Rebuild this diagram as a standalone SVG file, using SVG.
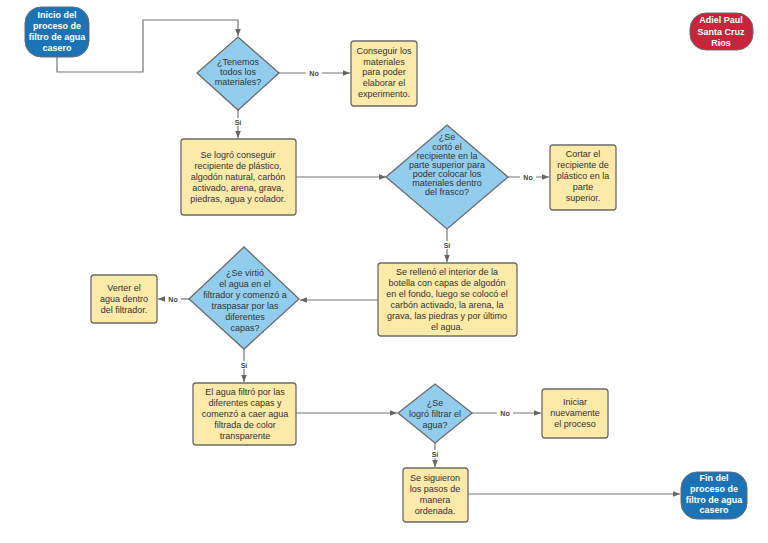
<svg xmlns="http://www.w3.org/2000/svg" width="768" height="543" viewBox="0 0 768 543">
<defs>
<marker id="ah" viewBox="0 0 10 10" refX="10" refY="5" markerWidth="7" markerHeight="7" markerUnits="userSpaceOnUse" orient="auto">
<path d="M0,1 L10,5 L0,9 z" fill="#666"/>
</marker>
<style>
.box{fill:#FDE9A8;stroke:#6b6b6b;stroke-width:1.3}
.dia{fill:#92CDEE;stroke:#6b6b6b;stroke-width:1.3}
.term{fill:#1B73B5;stroke:#6b6b6b;stroke-width:1}
.red{fill:#C8243A;stroke:#6b6b6b;stroke-width:1}
.t{font-family:"Liberation Sans",Arial,sans-serif;font-size:9px;fill:#333;text-anchor:middle;dominant-baseline:central}
.tw{font-family:"Liberation Sans",Arial,sans-serif;font-size:9px;font-weight:bold;fill:#fff;text-anchor:middle;dominant-baseline:central}
.c{fill:none;stroke:#777;stroke-width:1.2}
.lb{font-family:"Liberation Sans",Arial,sans-serif;font-size:7px;font-weight:bold;fill:#444;text-anchor:middle;dominant-baseline:central}
.lbg{fill:#fff}
</style>
</defs>
<rect width="768" height="543" fill="#fff"/>

<g id="connectors">
<path class="c" d="M57,57 V72 H143 V20 H238 V36" marker-end="url(#ah)"/>
<path class="c" d="M279,73 H350" marker-end="url(#ah)"/>
<path class="c" d="M238,110 V138" marker-end="url(#ah)"/>
<path class="c" d="M296,177 H386" marker-end="url(#ah)"/>
<path class="c" d="M508,177 H549" marker-end="url(#ah)"/>
<path class="c" d="M447,229 V262" marker-end="url(#ah)"/>
<path class="c" d="M378,300 H300" marker-end="url(#ah)"/>
<path class="c" d="M189,299 H158" marker-end="url(#ah)"/>
<path class="c" d="M244,349 V382" marker-end="url(#ah)"/>
<path class="c" d="M296,413 H397" marker-end="url(#ah)"/>
<path class="c" d="M472,413 H541" marker-end="url(#ah)"/>
<path class="c" d="M435,443 V467" marker-end="url(#ah)"/>
<path class="c" d="M468,494 H680" marker-end="url(#ah)"/>
<rect class="lbg" x="306" y="69" width="16" height="8"/><text class="lb" x="314" y="73">No</text>
<rect class="lbg" x="232" y="118" width="12" height="8"/><text class="lb" x="238" y="122">Sí</text>
<rect class="lbg" x="520" y="173" width="16" height="8"/><text class="lb" x="528" y="177">No</text>
<rect class="lbg" x="441" y="241" width="12" height="8"/><text class="lb" x="447" y="245">Sí</text>
<rect class="lbg" x="165" y="295" width="16" height="8"/><text class="lb" x="173" y="299">No</text>
<rect class="lbg" x="238" y="361" width="12" height="8"/><text class="lb" x="244" y="365">Sí</text>
<rect class="lbg" x="497" y="409" width="16" height="8"/><text class="lb" x="505" y="413">No</text>
<rect class="lbg" x="429" y="450" width="12" height="8"/><text class="lb" x="435" y="454">Sí</text>
</g>

<g id="inicio">
<rect class="term" x="25" y="7" width="64" height="50" rx="16"/>
<text class="tw" x="57" y="15">Inicio del</text>
<text class="tw" x="57" y="26">proceso de</text>
<text class="tw" x="57" y="37">filtro de agua</text>
<text class="tw" x="57" y="48">casero</text>
</g>

<g id="autor">
<rect class="red" x="690" y="13" width="63" height="37" rx="16"/>
<text class="tw" x="721" y="20">Adiel Paul</text>
<text class="tw" x="721" y="32">Santa Cruz</text>
<text class="tw" x="721" y="43">Rios</text>
</g>

<g id="d1">
<polygon class="dia" points="238,37 279,73 238,110 197,73"/>
<text class="t" x="238" y="62">¿Tenemos</text>
<text class="t" x="238" y="72">todos los</text>
<text class="t" x="238" y="82">materiales?</text>
</g>

<g id="conseguir">
<rect class="box" x="351" y="41" width="66" height="65" rx="3"/>
<text class="t" x="384" y="51">Conseguir los</text>
<text class="t" x="384" y="62">materiales</text>
<text class="t" x="384" y="72">para poder</text>
<text class="t" x="384" y="83">elaborar el</text>
<text class="t" x="384" y="94">experimento.</text>
</g>

<g id="logro">
<rect class="box" x="181" y="139" width="115" height="76" rx="3"/>
<text class="t" x="238" y="155">Se logró conseguir</text>
<text class="t" x="238" y="166">recipiente de plástico,</text>
<text class="t" x="238" y="177">algodón natural, carbón</text>
<text class="t" x="238" y="188">activado, arena, grava,</text>
<text class="t" x="238" y="199">piedras, agua y colador.</text>
</g>

<g id="d2">
<polygon class="dia" points="447,125 508,177 447,229 386,177"/>
<text class="t" x="447" y="137">¿Se</text>
<text class="t" x="447" y="146.5">cortó el</text>
<text class="t" x="447" y="155.5">recipiente en la</text>
<text class="t" x="447" y="164.5">parte superior para</text>
<text class="t" x="447" y="173.5">poder colocar los</text>
<text class="t" x="447" y="183">materiales dentro</text>
<text class="t" x="447" y="192">del frasco?</text>
</g>

<g id="cortar">
<rect class="box" x="550" y="145" width="66" height="65" rx="3"/>
<text class="t" x="583" y="154">Cortar el</text>
<text class="t" x="583" y="165">recipiente de</text>
<text class="t" x="583" y="176">plástico en la</text>
<text class="t" x="583" y="187">parte</text>
<text class="t" x="583" y="198">superior.</text>
</g>

<g id="relleno">
<rect class="box" x="378" y="263" width="139" height="73" rx="3"/>
<text class="t" x="447" y="272">Se rellenó el interior de la</text>
<text class="t" x="447" y="283">botella con capas de algodón</text>
<text class="t" x="447" y="294">en el fondo, luego se colocó el</text>
<text class="t" x="447" y="305">carbón activado, la arena, la</text>
<text class="t" x="447" y="316">grava, las piedras y por último</text>
<text class="t" x="447" y="327">el agua.</text>
</g>

<g id="d3">
<polygon class="dia" points="244,247 299,299 244,349 189,299"/>
<text class="t" x="245" y="273">¿Se virtió</text>
<text class="t" x="245" y="284">el agua en el</text>
<text class="t" x="245" y="295">filtrador y comenzó a</text>
<text class="t" x="245" y="306">traspasar por las</text>
<text class="t" x="245" y="317">diferentes</text>
<text class="t" x="245" y="328">capas?</text>
</g>

<g id="verter">
<rect class="box" x="91" y="275" width="66" height="48" rx="3"/>
<text class="t" x="124" y="288">Verter el</text>
<text class="t" x="124" y="299">agua dentro</text>
<text class="t" x="124" y="310">del filtrador.</text>
</g>

<g id="filtro">
<rect class="box" x="193" y="383" width="103" height="62" rx="3"/>
<text class="t" x="245" y="392">El agua filtró por las</text>
<text class="t" x="245" y="403">diferentes capas y</text>
<text class="t" x="245" y="414">comenzó a caer agua</text>
<text class="t" x="245" y="425">filtrada de color</text>
<text class="t" x="245" y="436">transparente</text>
</g>

<g id="d4">
<polygon class="dia" points="435,384 472,413 435,443 398,413"/>
<text class="t" x="435" y="403">¿Se</text>
<text class="t" x="435" y="414">logró filtrar el</text>
<text class="t" x="435" y="425">agua?</text>
</g>

<g id="iniciar">
<rect class="box" x="542" y="389" width="66" height="49" rx="3"/>
<text class="t" x="575" y="402">Iniciar</text>
<text class="t" x="575" y="413">nuevamente</text>
<text class="t" x="575" y="424">el proceso</text>
</g>

<g id="siguieron">
<rect class="box" x="403" y="468" width="65" height="54" rx="3"/>
<text class="t" x="435" y="478">Se siguieron</text>
<text class="t" x="435" y="489">los pasos de</text>
<text class="t" x="435" y="500">manera</text>
<text class="t" x="435" y="511">ordenada.</text>
</g>

<g id="fin">
<rect class="term" x="681" y="472" width="66" height="47" rx="16"/>
<text class="tw" x="714" y="478">Fin del</text>
<text class="tw" x="714" y="489">proceso de</text>
<text class="tw" x="714" y="499.5">filtro de agua</text>
<text class="tw" x="714" y="510">casero</text>
</g>
</svg>
